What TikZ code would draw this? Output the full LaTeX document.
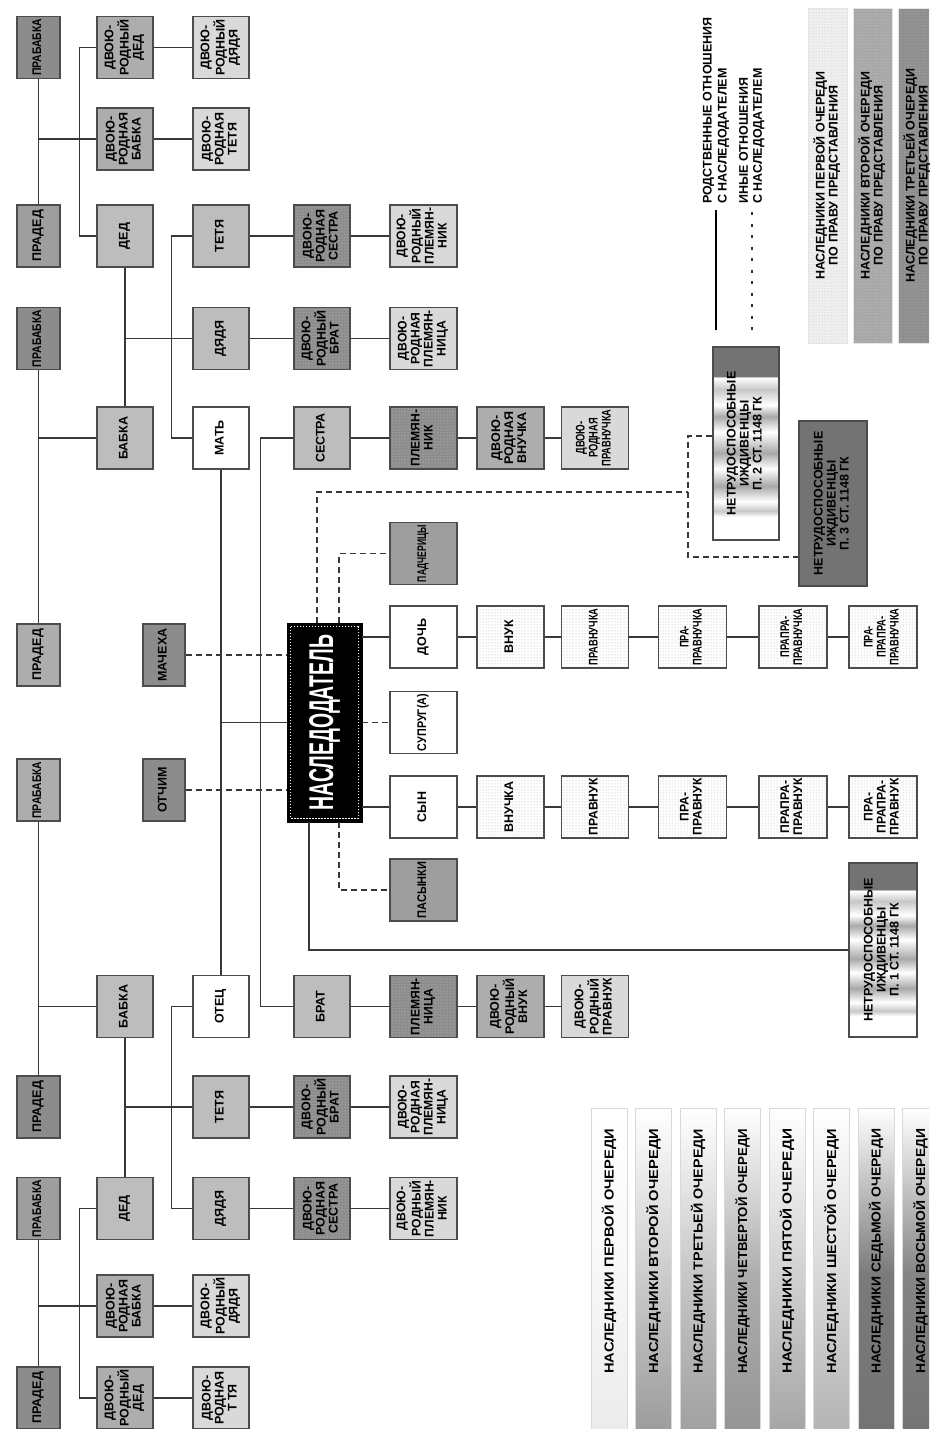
\documentclass[tikz,border=0pt]{standalone}
\usepackage{fontspec}
\setmainfont{Liberation Sans}
\usepackage{graphicx}
\usetikzlibrary{patterns,calc}
\definecolor{gA}{gray}{0.55}
\definecolor{gB}{gray}{0.62}
\definecolor{gC}{gray}{0.68}
\definecolor{gD}{gray}{0.74}
\definecolor{gE}{gray}{0.85}
\definecolor{gN}{gray}{0.45}
\definecolor{lnc}{gray}{0.22}
\definecolor{bdc}{gray}{0.3}
\definecolor{stD}{gray}{0.45}
\definecolor{stM}{gray}{0.66}
\definecolor{stL}{gray}{0.78}
\pgfdeclareverticalshading{nstripe}{100bp}{color(0bp)=(white); color(25bp)=(white); color(31bp)=(white); color(32.5bp)=(stL); color(35bp)=(white); color(39bp)=(stM); color(43.5bp)=(white); color(47.5bp)=(stM); color(53bp)=(white); color(57bp)=(stM); color(60bp)=(white); color(64bp)=(stL); color(67bp)=(white); color(67.5bp)=(stD); color(100bp)=(stD)}
\newsavebox\vtbox
\newcommand\vt[2][57pt]{\sbox\vtbox{\begin{tabular}{@{}c@{}}#2\end{tabular}}\rotatebox{90}{\ifdim\wd\vtbox>#1\relax\resizebox{#1}{\height}{\usebox\vtbox}\else\usebox\vtbox\fi}}
\newcommand\fa{\fontsize{12.5}{13}\selectfont\bfseries}
\newcommand\barlbl[1]{\rotatebox{90}{\resizebox{245pt}{\height}{#1}}}
\tikzset{
 bx/.style={draw=bdc, line width=1.1pt, inner sep=0pt, minimum height=62pt, font=\fa},
 wn/.style={minimum width=43pt},
 wm/.style={minimum width=56pt},
 ww/.style={minimum width=67pt},
 dotd/.style={preaction={fill=black!45}, pattern=dots, pattern color=black!20},
 dotl/.style={preaction={fill=white}, pattern=dots, pattern color=black!32},
 ln/.style={draw=lnc, line width=1.1pt},
 dsh/.style={draw=lnc, line width=1.2pt, dash pattern=on 6pt off 4pt},
 nebox/.style={draw=bdc, line width=1.1pt, inner sep=0pt, font=\fa},
 lbar/.style={draw=black!15, line width=0.6pt, minimum width=36pt, minimum height=332pt, inner sep=0pt, top color=white},
 tlbox/.style={draw=black!10, line width=0.6pt, minimum width=39pt, minimum height=335pt, inner sep=0pt, font=\fa},
 lgtxt/.style={inner sep=0pt, font=\fa, anchor=south}
}
\begin{document}
\begin{tikzpicture}[x=1pt,y=-1pt]
\useasboundingbox (0,0) rectangle (929,1429);
\clip (0,0) rectangle (929,1429);
\fill[white] (0,0) rectangle (929,1429);
% column A
\node[bx,wn,fill=gA] (pb1) at (38.5,47.5) {\vt{ПРАБАБКА}};
\node[bx,wn,fill=gB] (pd1) at (38.5,236) {\vt{ПРАДЕД}};
\node[bx,wn,fill=gA] (pb2) at (38.5,338.5) {\vt{ПРАБАБКА}};
\node[bx,wn,fill=gC] (pd2) at (38.5,655) {\vt{ПРАДЕД}};
\node[bx,wn,fill=gC] (pb3) at (38.5,790) {\vt{ПРАБАБКА}};
\node[bx,wn,fill=gA] (pd3) at (38.5,1107) {\vt{ПРАДЕД}};
\node[bx,wn,fill=gB] (pb4) at (38.5,1208.5) {\vt{ПРАБАБКА}};
\node[bx,wn,fill=gA] (pd4) at (38.5,1398) {\vt{ПРАДЕД}};
% column B
\node[bx,wm,fill=gC] (ddd1) at (125,47.5) {\vt{ДВОЮ-\\РОДНЫЙ\\ДЕД}};
\node[bx,wm,fill=gC] (dbb1) at (125,139) {\vt{ДВОЮ-\\РОДНАЯ\\БАБКА}};
\node[bx,wm,fill=gD] (ded1) at (125,236) {\vt{ДЕД}};
\node[bx,wm,fill=gD] (bab1) at (125,438) {\vt{БАБКА}};
\node[bx,wm,fill=gD] (bab2) at (125,1006.5) {\vt{БАБКА}};
\node[bx,wm,fill=gD] (ded2) at (125,1208.5) {\vt{ДЕД}};
\node[bx,wm,fill=gC] (dbb2) at (125,1306) {\vt{ДВОЮ-\\РОДНАЯ\\БАБКА}};
\node[bx,wm,fill=gC] (ddd2) at (125,1398) {\vt{ДВОЮ-\\РОДНЫЙ\\ДЕД}};
% column C
\node[bx,wm,fill=gE] (ddj1) at (221,47.5) {\vt{ДВОЮ-\\РОДНЫЙ\\ДЯДЯ}};
\node[bx,wm,fill=gE] (dtt1) at (221,139) {\vt{ДВОЮ-\\РОДНАЯ\\ТЕТЯ}};
\node[bx,wm,fill=gD] (tet1) at (221,236) {\vt{ТЕТЯ}};
\node[bx,wm,fill=gD] (dja1) at (221,338.5) {\vt{ДЯДЯ}};
\node[bx,wm,fill=white] (mat) at (221,438) {\vt{МАТЬ}};
\node[bx,wm,fill=white] (otec) at (221,1006.5) {\vt{ОТЕЦ}};
\node[bx,wm,fill=gD] (tet2) at (221,1107) {\vt{ТЕТЯ}};
\node[bx,wm,fill=gD] (dja2) at (221,1208.5) {\vt{ДЯДЯ}};
\node[bx,wm,fill=gE] (ddj2) at (221,1306) {\vt{ДВОЮ-\\РОДНЫЙ\\ДЯДЯ}};
\node[bx,wm,fill=gE] (dtt2) at (221,1398) {\vt{ДВОЮ-\\РОДНАЯ\\Т ТЯ}};
% step-parents
\node[bx,minimum width=42pt,fill=gA] (mach) at (164,655) {\vt{МАЧЕХА}};
\node[bx,minimum width=42pt,fill=gA] (otch) at (164,790) {\vt{ОТЧИМ}};
% column D
\node[bx,wm,dotd] (dse1) at (322,236) {\vt{ДВОЮ-\\РОДНАЯ\\СЕСТРА}};
\node[bx,wm,dotd] (dbr1) at (322,338.5) {\vt{ДВОЮ-\\РОДНЫЙ\\БРАТ}};
\node[bx,wm,fill=gD] (ses) at (322,438) {\vt{СЕСТРА}};
\node[bx,wm,fill=gD] (bra) at (322,1006.5) {\vt{БРАТ}};
\node[bx,wm,dotd] (dbr2) at (322,1107) {\vt{ДВОЮ-\\РОДНЫЙ\\БРАТ}};
\node[bx,wm,dotd] (dse2) at (322,1208.5) {\vt{ДВОЮ-\\РОДНАЯ\\СЕСТРА}};
% testator
\node[draw=black, fill=black, minimum width=75pt, minimum height=199pt, inner sep=0pt, text=white] (nas) at (324.5,722.5) {\rotatebox{90}{\resizebox{176pt}{24pt}{\bfseries НАСЛЕДОДАТЕЛЬ}}};
\draw[white, line width=1.3pt, dash pattern=on 1.3pt off 1.7pt] ([shift={(4pt,-4pt)}]nas.north west) rectangle ([shift={(-4pt,4pt)}]nas.south east);
% column E
\node[bx,ww,fill=gE] (dpl1) at (423.5,236) {\vt{ДВОЮ-\\РОДНЫЙ\\ПЛЕМЯН-\\НИК}};
\node[bx,ww,fill=gE] (dpn1) at (423.5,338.5) {\vt{ДВОЮ-\\РОДНАЯ\\ПЛЕМЯН-\\НИЦА}};
\node[bx,ww,dotd] (plk) at (423.5,438) {\vt{ПЛЕМЯН-\\НИК}};
\node[bx,ww,fill=gB] (pad) at (423.5,553.5) {\vt{ПАДЧЕРИЦЫ}};
\node[bx,ww,fill=white] (doch) at (423.5,637) {\vt{ДОЧЬ}};
\node[bx,ww,fill=white] (supr) at (423.5,722.5) {\vt{СУПРУГ(А)}};
\node[bx,ww,fill=white] (syn) at (423.5,807) {\vt{СЫН}};
\node[bx,ww,fill=gB] (pas) at (423.5,890) {\vt{ПАСЫНКИ}};
\node[bx,ww,dotd] (plc) at (423.5,1006.5) {\vt{ПЛЕМЯН-\\НИЦА}};
\node[bx,ww,fill=gE] (dpn2) at (423.5,1107) {\vt{ДВОЮ-\\РОДНАЯ\\ПЛЕМЯН-\\НИЦА}};
\node[bx,ww,fill=gE] (dpl2) at (423.5,1208.5) {\vt{ДВОЮ-\\РОДНЫЙ\\ПЛЕМЯН-\\НИК}};
% column F
\node[bx,ww,fill=gC] (dvn) at (510.5,438) {\vt{ДВОЮ-\\РОДНАЯ\\ВНУЧКА}};
\node[bx,ww,dotl] (vnuk) at (510.5,637) {\vt{ВНУК}};
\node[bx,ww,dotl] (vnuch) at (510.5,807) {\vt{ВНУЧКА}};
\node[bx,ww,fill=gC] (dvk) at (510.5,1006.5) {\vt{ДВОЮ-\\РОДНЫЙ\\ВНУК}};
% column G
\node[bx,ww,fill=gE] (dpvch) at (595,438) {\vt{ДВОЮ-\\РОДНАЯ\\ПРАВНУЧКА}};
\node[bx,ww,dotl] (pvch) at (595,637) {\vt{ПРАВНУЧКА}};
\node[bx,ww,dotl] (pvk) at (595,807) {\vt{ПРАВНУК}};
\node[bx,ww,fill=gE] (dpvk) at (595,1006.5) {\vt{ДВОЮ-\\РОДНЫЙ\\ПРАВНУК}};
% columns H I J
\node[bx,minimum width=68pt,dotl] (ppvch) at (692.5,637) {\vt{ПРА-\\ПРАВНУЧКА}};
\node[bx,minimum width=68pt,dotl] (ppvk) at (692.5,807) {\vt{ПРА-\\ПРАВНУК}};
\node[bx,minimum width=68pt,dotl] (pppvch) at (793,637) {\vt{ПРАПРА-\\ПРАВНУЧКА}};
\node[bx,minimum width=68pt,dotl] (pppvk) at (793,807) {\vt{ПРАПРА-\\ПРАВНУК}};
\node[bx,minimum width=68pt,dotl] (p4ch) at (883,637) {\vt{ПРА-\\ПРАПРА-\\ПРАВНУЧКА}};
\node[bx,minimum width=68pt,dotl] (p4k) at (883,807) {\vt{ПРА-\\ПРАПРА-\\ПРАВНУК}};
% dependants
\node[nebox, minimum width=66pt, minimum height=193pt, shading=nstripe] (ne2) at (746,443.5) {\vt[180pt]{НЕТРУДОСПОСОБНЫЕ\\ИЖДИВЕНЦЫ\\П. 2 СТ. 1148 ГК}};
\node[nebox, minimum width=68pt, minimum height=165pt, fill=gN] (ne3) at (833,503.5) {\vt[155pt]{НЕТРУДОСПОСОБНЫЕ\\ИЖДИВЕНЦЫ\\П. 3 СТ. 1148 ГК}};
\node[nebox, minimum width=68pt, minimum height=174pt, shading=nstripe] (ne1) at (883,950) {\vt[165pt]{НЕТРУДОСПОСОБНЫЕ\\ИЖДИВЕНЦЫ\\П. 1 СТ. 1148 ГК}};
% connectors
\draw[ln] (pb1) -- (pd1);
\draw[ln] (pb1.south |- dbb1.west) -- (dbb1.west);
\draw[ln] (ddd1.west) -- ++(-17,0) |- (ded1.west);
\draw[ln] (ddd1) -- (ddj1);
\draw[ln] (dbb1) -- (dtt1);
\draw[ln] (ded1) -- (bab1);
\draw[ln] (ded1.south |- dja1.west) -- (dja1.west);
\draw[ln] (tet1.west) -- ++(-21,0) |- (mat.west);
\draw[ln] (tet1) -- (dse1) -- (dpl1);
\draw[ln] (dja1) -- (dbr1) -- (dpn1);
\draw[ln] (pb2) -- (pd2);
\draw[ln] (pb2.south |- bab1.west) -- (bab1.west);
\draw[ln] (ses) -- (plk) -- (dvn) -- (dpvch);
\draw[ln] (ses.west) -- ++(-33,0) |- (bra.west);
\draw[ln] (mat) -- (otec);
\draw[ln] (mat.south |- nas.west) -- (nas.west);
\draw[dsh] (mach) -- (mach -| nas.west);
\draw[dsh] (otch) -- (otch -| nas.west);
\draw[ln] (nas.east |- doch.west) -- (doch) -- (vnuk) -- (pvch) -- (ppvch) -- (pppvch) -- (p4ch);
\draw[ln] (nas.east |- syn.west) -- (syn) -- (vnuch) -- (pvk) -- (ppvk) -- (pppvk) -- (p4k);
\draw[dsh] (nas.east) -- (supr.west);
\draw[dsh] ([xshift=14.5pt]nas.north) |- (pad.west);
\draw[dsh] ([xshift=14.5pt]nas.south) |- (pas.west);
\coordinate (jn) at (688,492);
\coordinate (jt) at (688,436);
\coordinate (jb) at (688,557);
\draw[dsh] ([xshift=-7.5pt]nas.north) |- (jn);
\draw[dsh] (jt -| ne2.west) -- (jt) -- (jb) -- (jb -| ne3.west);
\draw[ln] ([xshift=-15.5pt]nas.south) |- (ne1.west);
\draw[ln] (pb3) -- (pd3);
\draw[ln] (pb3.south |- bab2.west) -- (bab2.west);
\draw[ln] (bab2) -- (ded2);
\draw[ln] (bab2.south |- tet2.west) -- (tet2.west);
\draw[ln] (otec.west) -- ++(-21,0) |- (dja2.west);
\draw[ln] (tet2) -- (dbr2) -- (dpn2);
\draw[ln] (dja2) -- (dse2) -- (dpl2);
\draw[ln] (bra) -- (plc) -- (dvk) -- (dpvk);
\draw[ln] (pb4) -- (pd4);
\draw[ln] (pb4.south |- dbb2.west) -- (dbb2.west);
\draw[ln] (ded2.west) -- ++(-17,0) |- (ddd2.west);
\draw[ln] (dbb2) -- (ddj2);
\draw[ln] (ddd2) -- (dtt2);
% legend: line types
\coordinate (ls1) at (716,210);
\coordinate (ls2) at (716,330);
\coordinate (ld1) at (752,212);
\coordinate (ld2) at (752,330);
\draw[black, line width=2pt] (ls1) -- (ls2);
\draw[black!80, line width=2.2pt, dash pattern=on 3pt off 8.5pt] (ld1) -- (ld2);
\node[lgtxt] (lt1) at (716,204) {\rotatebox{90}{\fontsize{12.5}{15}\selectfont\begin{tabular}{@{}l@{}}РОДСТВЕННЫЕ ОТНОШЕНИЯ\\С НАСЛЕДОДАТЕЛЕМ\end{tabular}}};
\node[lgtxt] (lt2) at (752,204) {\rotatebox{90}{\fontsize{12.5}{14}\selectfont\begin{tabular}{@{}l@{}}ИНЫЕ ОТНОШЕНИЯ\\С НАСЛЕДОДАТЕЛЕМ\end{tabular}}};
% legend: representation
\node[tlbox, preaction={fill=black!6}, pattern=dots, pattern color=black!25] (tl1) at (827.5,175.5) {\vt[330pt]{НАСЛЕДНИКИ ПЕРВОЙ ОЧЕРЕДИ\\ПО ПРАВУ ПРЕДСТАВЛЕНИЯ}};
\node[tlbox, preaction={fill=black!32}, pattern=dots, pattern color=black!50] (tl2) at (872.5,175.5) {\vt[330pt]{НАСЛЕДНИКИ ВТОРОЙ ОЧЕРЕДИ\\ПО ПРАВУ ПРЕДСТАВЛЕНИЯ}};
\node[tlbox, preaction={fill=black!42}, pattern=dots, pattern color=black!58] (tl3) at (917.5,175.5) {\vt[330pt]{НАСЛЕДНИКИ ТРЕТЬЕЙ ОЧЕРЕДИ\\ПО ПРАВУ ПРЕДСТАВЛЕНИЯ}};
% legend: order bars
\node[lbar, bottom color=black!8, middle color=black!3] (b1) at (609,1274) {};
\node[lbar, bottom color=black!40, middle color=black!20] (b2) at (653.5,1274) {};
\node[lbar, bottom color=black!38, middle color=black!22] (b3) at (698,1274) {};
\node[lbar, bottom color=black!42, middle color=black!32] (b4) at (742.5,1274) {};
\node[lbar, bottom color=black!36, middle color=black!18] (b5) at (787,1274) {};
\node[lbar, bottom color=black!30, middle color=black!15] (b6) at (831.5,1274) {};
\node[lbar, bottom color=black!55, middle color=black!52] (b7) at (876,1274) {};
\node[lbar, bottom color=black!55, middle color=black!48] (b8) at (920.5,1274) {};
\node[lgtxt, font=\fontsize{13}{14}\selectfont\bfseries] (bt1) at (b1 |- 0,1374) {\barlbl{НАСЛЕДНИКИ ПЕРВОЙ ОЧЕРЕДИ}};
\node[lgtxt, font=\fontsize{13}{14}\selectfont\bfseries] (bt2) at (b2 |- 0,1374) {\barlbl{НАСЛЕДНИКИ ВТОРОЙ ОЧЕРЕДИ}};
\node[lgtxt, font=\fontsize{13}{14}\selectfont\bfseries] (bt3) at (b3 |- 0,1374) {\barlbl{НАСЛЕДНИКИ ТРЕТЬЕЙ ОЧЕРЕДИ}};
\node[lgtxt, font=\fontsize{13}{14}\selectfont\bfseries] (bt4) at (b4 |- 0,1374) {\barlbl{НАСЛЕДНИКИ ЧЕТВЕРТОЙ ОЧЕРЕДИ}};
\node[lgtxt, font=\fontsize{13}{14}\selectfont\bfseries] (bt5) at (b5 |- 0,1374) {\barlbl{НАСЛЕДНИКИ ПЯТОЙ ОЧЕРЕДИ}};
\node[lgtxt, font=\fontsize{13}{14}\selectfont\bfseries] (bt6) at (b6 |- 0,1374) {\barlbl{НАСЛЕДНИКИ ШЕСТОЙ ОЧЕРЕДИ}};
\node[lgtxt, font=\fontsize{13}{14}\selectfont\bfseries] (bt7) at (b7 |- 0,1374) {\barlbl{НАСЛЕДНИКИ СЕДЬМОЙ ОЧЕРЕДИ}};
\node[lgtxt, font=\fontsize{13}{14}\selectfont\bfseries] (bt8) at (b8 |- 0,1374) {\barlbl{НАСЛЕДНИКИ ВОСЬМОЙ ОЧЕРЕДИ}};
\end{tikzpicture}
\end{document}
